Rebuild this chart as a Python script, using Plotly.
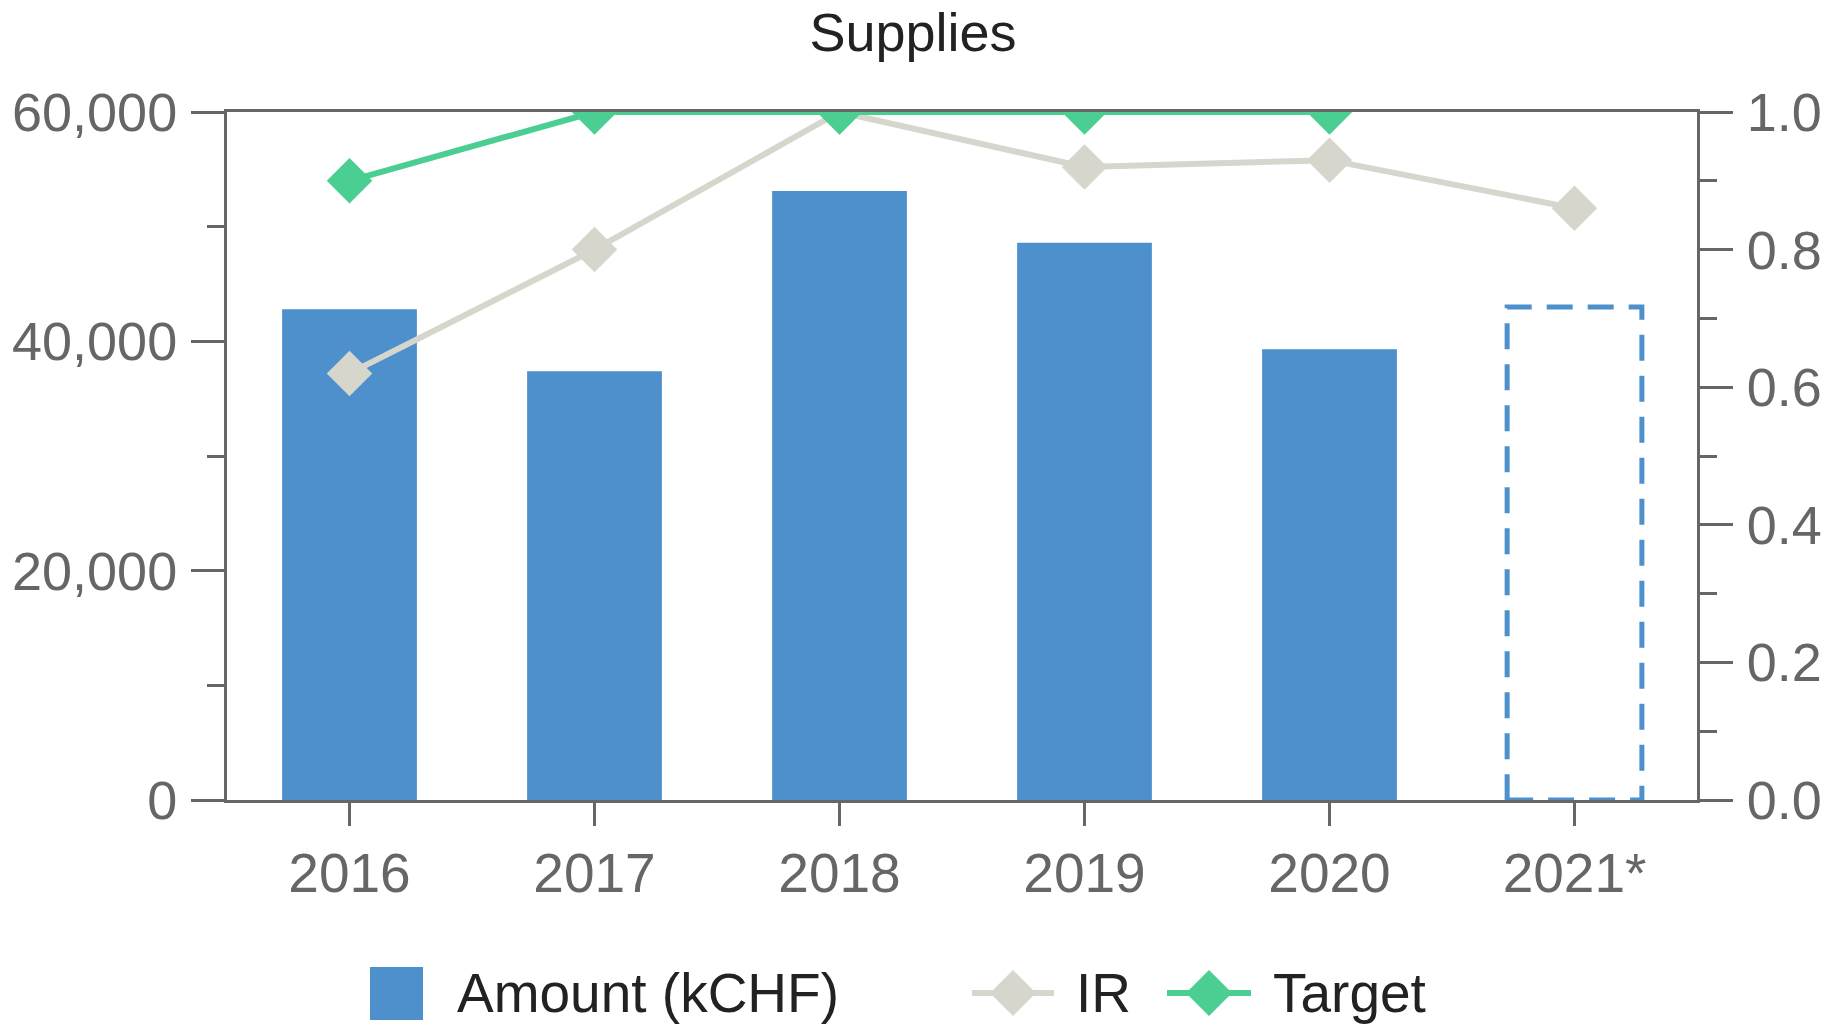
import plotly.graph_objects as go

# ---- data ----
categories = ["2016", "2017", "2018", "2019", "2020", "2021*"]
amount = [42800, 37400, 53100, 48600, 39300, None]
amount_forecast = [None, None, None, None, None, 43000]
ir = [0.62, 0.80, 1.0, 0.92, 0.93, 0.86]
target = [0.90, 1.0, 1.0, 1.0, 1.0, None]

# ---- style ----
BAR = "#4D90CC"
IRC = "#D6D6CD"
TGC = "#4BCE91"
AX = "#666666"
FONT = "Liberation Sans, Arial, sans-serif"
W, H = 1826, 1024
ML, MR, MT, MB = 227, 129, 112, 224
BAR_W = 0.55

xs = list(range(len(categories)))

fig = go.Figure()
fig.add_trace(go.Bar(x=xs, y=amount, width=BAR_W, marker=dict(color=BAR, line=dict(width=0)),
                     name="Amount (kCHF)", showlegend=False))
fig.add_trace(go.Scatter(x=xs, y=ir, yaxis="y2", mode="lines+markers", name="IR",
                         line=dict(color=IRC, width=6),
                         marker=dict(symbol="diamond", size=35, color=IRC), showlegend=False))
fig.add_trace(go.Scatter(x=xs, y=target, yaxis="y2", mode="lines+markers", name="Target",
                         line=dict(color=TGC, width=6),
                         marker=dict(symbol="diamond", size=35, color=TGC), showlegend=False))

shapes = []
# dashed forecast bar drawn from the data through the axes
for i, v in enumerate(amount_forecast):
    if v is None:
        continue
    shapes.append(dict(type="rect", xref="x", yref="y", x0=xs[i] - BAR_W / 2, x1=xs[i] + BAR_W / 2,
                       y0=0, y1=v, line=dict(color=BAR, width=5, dash="26px,15px"),
                       fillcolor="rgba(0,0,0,0)", layer="above"))

# ---- manual legend (pixel positions converted to paper coords) ----
PW = W - ML - MR
PH = H - MT - MB

def px(x):
    return (x - ML) / PW

def py(y):
    return (H - MB - y) / PH

LY = 993
shapes.append(dict(type="rect", xref="paper", yref="paper", x0=px(370), x1=px(423),
                   y0=py(1020), y1=py(967), fillcolor=BAR, line=dict(width=0)))

def diamond_path(cx, cy, r):
    return (f"M {px(cx - r)},{py(cy)} L {px(cx)},{py(cy - r)} "
            f"L {px(cx + r)},{py(cy)} L {px(cx)},{py(cy + r)} Z")

for (x0, x1, col) in [(972, 1054, IRC), (1167, 1251, TGC)]:
    shapes.append(dict(type="line", xref="paper", yref="paper", x0=px(x0), x1=px(x1),
                       y0=py(LY), y1=py(LY), line=dict(color=col, width=6)))
    shapes.append(dict(type="path", xref="paper", yref="paper",
                       path=diamond_path((x0 + x1) / 2, LY, 23), fillcolor=col, line=dict(width=0)))

annotations = []
for text, x in [("Amount (kCHF)", 455), ("IR", 1074), ("Target", 1271)]:
    annotations.append(dict(text=text, xref="paper", yref="paper", x=px(x), y=py(LY),
                            xanchor="left", yanchor="middle", showarrow=False,
                            font=dict(family=FONT, size=55, color="#222222")))

tickfont = dict(family=FONT, size=54, color=AX)

fig.update_layout(
    width=W, height=H,
    margin=dict(l=ML, r=MR, t=MT, b=MB, autoexpand=False),
    paper_bgcolor="white", plot_bgcolor="white",
    title=dict(text="Supplies", x=0.5, xref="container", xanchor="center",
               y=1 - 32 / H, yref="container", yanchor="middle",
               font=dict(family=FONT, size=54, color="#222222")),
    xaxis=dict(range=[-0.5, len(categories) - 0.5], tickvals=xs, ticktext=categories,
               showgrid=False, zeroline=False, showline=True, linecolor=AX, linewidth=3,
               mirror=True, ticks="outside", ticklen=23, tickwidth=3, tickcolor=AX,
               tickfont=dict(family=FONT, size=55, color=AX), automargin=False),
    yaxis=dict(range=[0, 60000], dtick=20000, tickformat=",d", showgrid=False, zeroline=False,
               showline=True, linecolor=AX, linewidth=3, ticks="outside", ticklen=33,
               tickwidth=3, tickcolor=AX, tickfont=tickfont, ticklabelstandoff=3,
               automargin=False,
               minor=dict(dtick=10000, ticks="outside", ticklen=17, tickwidth=3, tickcolor=AX,
                          showgrid=False)),
    yaxis2=dict(range=[0, 1], dtick=0.2, tickformat=".1f", overlaying="y", side="right",
                showgrid=False, zeroline=False, showline=True, linecolor=AX, linewidth=3,
                ticks="outside", ticklen=33, tickwidth=3, tickcolor=AX, tickfont=tickfont,
                ticklabelstandoff=3, automargin=False,
                minor=dict(dtick=0.1, ticks="outside", ticklen=17, tickwidth=3, tickcolor=AX,
                           showgrid=False)),
    shapes=shapes,
    annotations=annotations,
    showlegend=False,
    bargap=0.45,
)

fig.write_html("out.html", config={"displayModeBar": False},
               post_script="document.body.style.margin='0px';document.body.style.overflow='hidden';")
